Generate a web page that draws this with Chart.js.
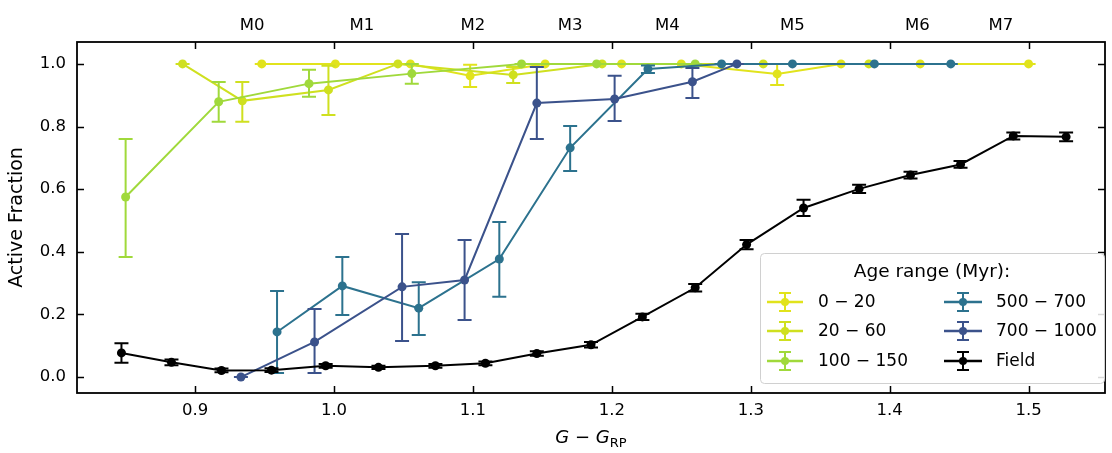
<!DOCTYPE html>
<html><head><meta charset="utf-8">
<script src="https://cdn.jsdelivr.net/npm/chart.js@4.4.0/dist/chart.umd.min.js"></script>
<style>html,body{margin:0;padding:0;background:#fff}#wrap{width:1112px;height:453px;position:relative}</style>
</head><body><div id="wrap"><canvas id="c"></canvas></div>
<script>
// ---- data ----
const seriesNames = ['0 − 20', '20 − 60', '100 − 150', '500 − 700', '700 − 1000', 'Field'];
const seriesColors = ['#e1e31c', '#cfe01f', '#a0d93b', '#2c728e', '#3b528b', '#000000'];

const x_0_20  = [0.948, 1.001, 1.055, 1.098, 1.152, 1.207, 1.250, 1.319, 1.365, 1.422, 1.500];
const y_0_20  = [1.000, 1.000, 1.000, 0.962, 1.000, 1.000, 1.000, 0.968, 1.000, 1.000, 1.000];
const lo_0_20 = [1.000, 1.000, 1.000, 0.926, 1.000, 1.000, 1.000, 0.933, 1.000, 1.000, 1.000];
const hi_0_20 = [1.000, 1.000, 1.000, 0.997, 1.000, 1.000, 1.000, 1.000, 1.000, 1.000, 1.000];

const x_20_60  = [0.891, 0.934, 0.996, 1.046, 1.129, 1.193, 1.309, 1.385];
const y_20_60  = [1.000, 0.882, 0.917, 1.000, 0.965, 1.000, 1.000, 1.000];
const lo_20_60 = [1.000, 0.815, 0.837, 1.000, 0.939, 1.000, 1.000, 1.000];
const hi_20_60 = [1.000, 0.942, 0.994, 1.000, 0.990, 1.000, 1.000, 1.000];

const x_100_150  = [0.850, 0.917, 0.982, 1.056, 1.135, 1.189, 1.260];
const y_100_150  = [0.575, 0.879, 0.937, 0.969, 1.000, 1.000, 1.000];
const lo_100_150 = [0.383, 0.815, 0.895, 0.937, 1.000, 1.000, 1.000];
const hi_100_150 = [0.760, 0.942, 0.981, 1.000, 1.000, 1.000, 1.000];

const x_500_700  = [0.959, 1.006, 1.061, 1.119, 1.170, 1.226, 1.279, 1.330, 1.389, 1.444];
const y_500_700  = [0.144, 0.291, 0.220, 0.377, 0.732, 0.984, 1.000, 1.000, 1.000, 1.000];
const lo_500_700 = [0.013, 0.198, 0.134, 0.256, 0.658, 0.971, 1.000, 1.000, 1.000, 1.000];
const hi_500_700 = [0.275, 0.383, 0.303, 0.495, 0.802, 0.995, 1.000, 1.000, 1.000, 1.000];

const x_700_1000  = [0.933, 0.986, 1.049, 1.094, 1.146, 1.202, 1.258, 1.290];
const y_700_1000  = [0.000, 0.112, 0.288, 0.310, 0.875, 0.888, 0.943, 1.000];
const lo_700_1000 = [0.000, 0.013, 0.115, 0.182, 0.760, 0.818, 0.891, 1.000];
const hi_700_1000 = [0.000, 0.217, 0.457, 0.438, 0.990, 0.962, 0.987, 1.000];

const x_field   = [0.847, 0.883, 0.919, 0.955, 0.994, 1.032, 1.073, 1.109, 1.146, 1.185, 1.222, 1.260, 1.297, 1.338, 1.378, 1.415, 1.451, 1.489, 1.527];
const y_field   = [0.077, 0.047, 0.021, 0.022, 0.036, 0.031, 0.036, 0.044, 0.075, 0.103, 0.192, 0.285, 0.423, 0.540, 0.601, 0.645, 0.679, 0.770, 0.767];
const err_field = [0.031, 0.009, 0.006, 0.006, 0.006, 0.005, 0.006, 0.006, 0.007, 0.009, 0.010, 0.012, 0.015, 0.026, 0.013, 0.011, 0.011, 0.011, 0.014];

const xTicks = [0.9, 1.0, 1.1, 1.2, 1.3, 1.4, 1.5];
const yTicks = [0.0, 0.2, 0.4, 0.6, 0.8, 1.0];
const spectralTypes = ['M0', 'M1', 'M2', 'M3', 'M4', 'M5', 'M6', 'M7'];
const spectralPos   = [0.941, 1.020, 1.100, 1.170, 1.240, 1.330, 1.420, 1.480];
const legendTitle = 'Age range (Myr):';

// ---- build datasets ----
const xs = [x_0_20, x_20_60, x_100_150, x_500_700, x_700_1000, x_field];
const ys = [y_0_20, y_20_60, y_100_150, y_500_700, y_700_1000, y_field];
const los = [lo_0_20, lo_20_60, lo_100_150, lo_500_700, lo_700_1000, y_field.map((v,i)=>v-err_field[i])];
const his = [hi_0_20, hi_20_60, hi_100_150, hi_500_700, hi_700_1000, y_field.map((v,i)=>v+err_field[i])];

const datasets = seriesNames.map((name, k) => ({
  label: name,
  data: xs[k].map((x, i) => ({x: x, y: ys[k][i]})),
  errLo: los[k], errHi: his[k],
  showLine: true,
  borderColor: seriesColors[k],
  backgroundColor: seriesColors[k],
  borderWidth: 2,
  pointRadius: 4.5,
  pointBorderWidth: 0,
  pointHoverRadius: 4.5,
  tension: 0,
  order: seriesNames.length - k
}));

const CAP = 7;
const errPlugin = {
  id: 'errbars',
  beforeDatasetDraw(chart, args) {
    const ds = chart.data.datasets[args.index];
    const sx = chart.scales.x, sy = chart.scales.y, ctx = chart.ctx;
    ctx.save();
    const a = chart.chartArea;
    ctx.beginPath(); ctx.rect(a.left, a.top, a.right - a.left, a.bottom - a.top); ctx.clip();
    ctx.strokeStyle = ds.borderColor; ctx.lineWidth = 2;
    ds.data.forEach((p, i) => {
      const px = sx.getPixelForValue(p.x);
      const y1 = sy.getPixelForValue(ds.errLo[i]), y2 = sy.getPixelForValue(ds.errHi[i]);
      ctx.beginPath();
      ctx.moveTo(px, y1); ctx.lineTo(px, y2);
      ctx.moveTo(px - CAP, y1); ctx.lineTo(px + CAP, y1);
      ctx.moveTo(px - CAP, y2); ctx.lineTo(px + CAP, y2);
      ctx.stroke();
    });
    ctx.restore();
  }
};

const FONT = '"DejaVu Sans", sans-serif';
const framePlugin = {
  id: 'frame',
  afterDraw(chart) {
    const ctx = chart.ctx, a = chart.chartArea, sx = chart.scales.x, sy = chart.scales.y;
    ctx.save();
    ctx.strokeStyle = '#000'; ctx.lineWidth = 1.8;
    ctx.strokeRect(a.left, a.top, a.right - a.left, a.bottom - a.top);
    ctx.lineWidth = 1.5;
    ctx.beginPath();
    xTicks.forEach(v => {
      const px = Math.round(sx.getPixelForValue(v)) + 0.5;
      ctx.moveTo(px, a.bottom); ctx.lineTo(px, a.bottom - 7);
      ctx.moveTo(px, a.top); ctx.lineTo(px, a.top + 7);
    });
    yTicks.forEach(v => {
      const py = Math.round(sy.getPixelForValue(v)) + 0.5;
      ctx.moveTo(a.left, py); ctx.lineTo(a.left + 7, py);
      ctx.moveTo(a.right, py); ctx.lineTo(a.right - 7, py);
    });
    ctx.stroke();

    // x-axis title: G − G_RP
    ctx.fillStyle = '#000';
    ctx.textBaseline = 'alphabetic';
    const parts = [
      {t: 'G', f: 'italic 18px ' + FONT, dy: 0},
      {t: ' − ', f: '18px ' + FONT, dy: 0},
      {t: 'G', f: 'italic 18px ' + FONT, dy: 0},
      {t: 'RP', f: '13px ' + FONT, dy: 4}
    ];
    let total = 0;
    parts.forEach(p => { ctx.font = p.f; p.w = ctx.measureText(p.t).width; total += p.w; });
    let cx = (a.left + a.right) / 2 - total / 2;
    parts.forEach(p => { ctx.font = p.f; ctx.fillText(p.t, cx, 443 + p.dy); cx += p.w; });

    // legend
    const L = 760, T = 253, R = 1104, B = 383;
    ctx.beginPath();
    ctx.roundRect(L + 0.5, T + 0.5, R - L, B - T, 4);
    ctx.fillStyle = 'rgba(255,255,255,0.85)'; ctx.fill();
    ctx.strokeStyle = '#d0d0d0'; ctx.lineWidth = 1; ctx.stroke();
    ctx.fillStyle = '#000';
    ctx.font = '18.5px ' + FONT;
    ctx.textAlign = 'center'; ctx.textBaseline = 'middle';
    ctx.fillText(legendTitle, (L + R) / 2, 272);
    ctx.font = '17px ' + FONT;
    ctx.textAlign = 'left';
    const rowsY = [302, 331, 361];
    const cols = [{h0: 767, h1: 803, tx: 818}, {h0: 944, h1: 982, tx: 996}];
    seriesNames.forEach((n, k) => {
      const c = cols[Math.floor(k / 3)], yy = rowsY[k % 3];
      const col = seriesColors[k], mx = (c.h0 + c.h1) / 2;
      ctx.strokeStyle = col; ctx.lineWidth = 2.6;
      ctx.beginPath(); ctx.moveTo(c.h0, yy); ctx.lineTo(c.h1, yy); ctx.stroke();
      ctx.lineWidth = 2;
      ctx.beginPath();
      ctx.moveTo(mx, yy - 9); ctx.lineTo(mx, yy + 9);
      ctx.moveTo(mx - 6, yy - 9); ctx.lineTo(mx + 6, yy - 9);
      ctx.moveTo(mx - 6, yy + 9); ctx.lineTo(mx + 6, yy + 9);
      ctx.stroke();
      ctx.fillStyle = col;
      ctx.beginPath(); ctx.arc(mx, yy, 4, 0, Math.PI * 2); ctx.fill();
      ctx.fillStyle = '#000';
      ctx.fillText(n, c.tx, yy + 1);
    });
    ctx.restore();
  }
};

const tickFont = {family: FONT, size: 16.5};
new Chart(document.getElementById('c'), {
  type: 'scatter',
  data: {datasets: datasets},
  options: {
    responsive: true, maintainAspectRatio: false, animation: false,
    layout: {padding: {left: 0, right: 7, top: 0, bottom: 0}},
    plugins: {legend: {display: false}, tooltip: {enabled: false}},
    scales: {
      x: {
        type: 'linear', position: 'bottom', min: 0.815, max: 1.555,
        grid: {display: false, drawTicks: false}, border: {display: false},
        afterBuildTicks: s => { s.ticks = xTicks.map(v => ({value: v})); },
        afterFit: s => { s.height = 60; },
        ticks: {color: '#000', font: tickFont, padding: 8, maxRotation: 0, autoSkip: false,
                callback: v => Number(v).toFixed(1)}
      },
      x2: {
        type: 'linear', position: 'top', min: 0.815, max: 1.555,
        grid: {display: false, drawTicks: false}, border: {display: false},
        afterBuildTicks: s => { s.ticks = spectralPos.map(v => ({value: v})); },
        afterFit: s => { s.height = 42; },
        ticks: {color: '#000', font: tickFont, padding: 6, maxRotation: 0, autoSkip: false,
                callback: (v, i) => spectralTypes[i]}
      },
      y: {
        type: 'linear', position: 'left', min: -0.051, max: 1.07,
        grid: {display: false, drawTicks: false}, border: {display: false},
        afterBuildTicks: s => { s.ticks = yTicks.map(v => ({value: v})); },
        afterFit: s => { s.width = 77; },
        ticks: {color: '#000', font: tickFont, padding: 11, autoSkip: false,
                callback: v => Number(v).toFixed(1)},
        title: {display: true, text: 'Active Fraction', color: '#000',
                font: {family: FONT, size: 19}, padding: {top: 6, bottom: 0}}
      }
    }
  },
  plugins: [errPlugin, framePlugin]
});
</script></body></html>
